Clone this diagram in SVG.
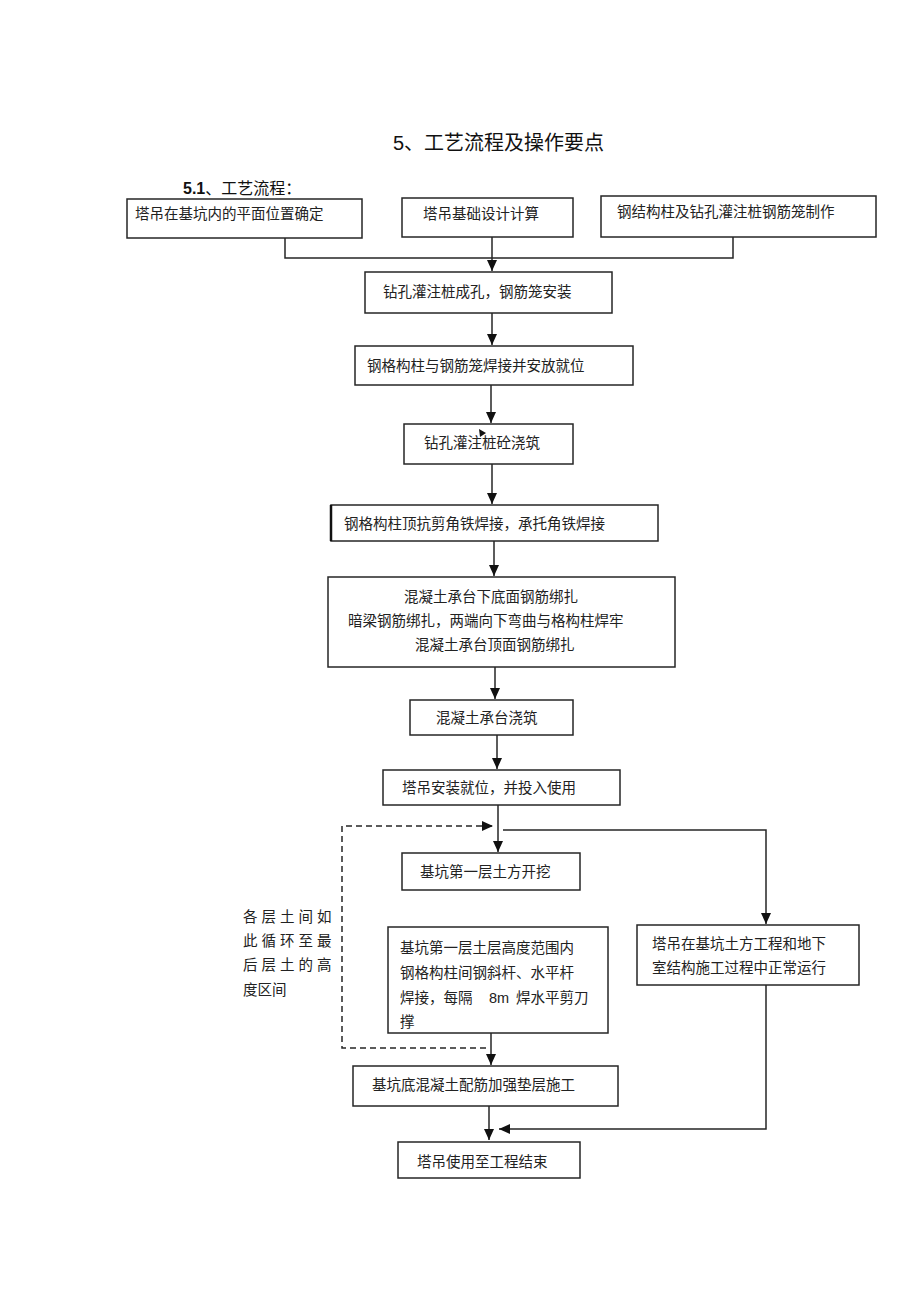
<svg xmlns="http://www.w3.org/2000/svg" width="920" height="1303" viewBox="0 0 920 1303">
<style>
.box{fill:#fff;stroke:#262626;stroke-width:1.5}
.t{font-family:"Liberation Serif","Noto Sans CJK SC",serif;font-size:14.5px;fill:#222}
.ln{fill:none;stroke:#262626;stroke-width:1.5}
.dash{fill:none;stroke:#262626;stroke-width:1.5;stroke-dasharray:6,4}
</style>
<defs>
<marker id="ah" markerUnits="userSpaceOnUse" markerWidth="12" markerHeight="12" viewBox="0 0 12 12" refX="11" refY="6" orient="auto">
<path d="M0,1 L11,6 L0,11 Z" fill="#111"/>
</marker>
</defs>
<rect width="920" height="1303" fill="#fff"/>
<text x="393" y="150" style="font-family:'Liberation Sans','Noto Sans CJK SC',sans-serif;font-size:20px;fill:#111">5、工艺流程及操作要点</text>
<text x="183" y="194" style="font-family:'Liberation Sans','Noto Sans CJK SC',sans-serif;font-size:16px;fill:#111"><tspan font-weight="bold">5.1</tspan>、工艺流程：</text>

<g id="connectors">
<path class="ln" d="M285 238 V258 H733 V237"/>
<path class="ln" d="M492 237 V271" marker-end="url(#ah)"/>
<path class="ln" d="M492 313 V345" marker-end="url(#ah)"/>
<path class="ln" d="M491 385 V423" marker-end="url(#ah)"/>
<path class="ln" d="M492 464 V504" marker-end="url(#ah)"/>
<path class="ln" d="M494 541 V576" marker-end="url(#ah)"/>
<path class="ln" d="M495 667 V699" marker-end="url(#ah)"/>
<path class="ln" d="M497 735 V769" marker-end="url(#ah)"/>
<path class="ln" d="M498 805 V852" marker-end="url(#ah)"/>
<path class="ln" d="M503 830 H766 V924" marker-end="url(#ah)"/>
<path class="dash" d="M486 1048 H342 V826 H493" marker-end="url(#ah)"/>
<path class="ln" d="M491 1033 V1065" marker-end="url(#ah)"/>
<path class="ln" d="M489 1092 V1140" marker-end="url(#ah)"/>
<path class="ln" d="M766 985 V1129 H499" marker-end="url(#ah)"/>
</g>

<g id="n1"><rect class="box" x="127" y="199" width="235" height="39"/><text class="t" x="135" y="219">塔吊在基坑内的平面位置确定</text></g>
<g id="n2"><rect class="box" x="402" y="198" width="171" height="39"/><text class="t" x="423" y="219">塔吊基础设计计算</text></g>
<g id="n3"><rect class="box" x="601" y="196" width="275" height="41"/><text class="t" x="617" y="217">钢结构柱及钻孔灌注桩钢筋笼制作</text></g>
<g id="n4"><rect class="box" x="365" y="272" width="247" height="41"/><text class="t" x="383" y="297">钻孔灌注桩成孔，钢筋笼安装</text></g>
<g id="n5"><rect class="box" x="355" y="346" width="278" height="39"/><text class="t" x="367" y="371">钢格构柱与钢筋笼焊接并安放就位</text></g>
<g id="n6"><rect class="box" x="404" y="424" width="169" height="40"/><text class="t" x="424" y="448">钻孔灌注桩砼浇筑</text><polygon points="479,429 486,433 480,437" fill="#111"/></g>
<g id="n7"><rect class="box" x="331" y="505" width="327" height="36"/><line x1="331" y1="505" x2="331" y2="541" stroke="#111" stroke-width="2.5"/><text class="t" x="344" y="529">钢格构柱顶抗剪角铁焊接，承托角铁焊接</text></g>
<g id="n8"><rect class="box" x="328" y="577" width="347" height="90"/>
<text class="t" x="404" y="602">混凝土承台下底面钢筋绑扎</text>
<text class="t" x="348" y="626">暗梁钢筋绑扎，两端向下弯曲与格构柱焊牢</text>
<text class="t" x="415" y="650">混凝土承台顶面钢筋绑扎</text></g>
<g id="n9"><rect class="box" x="410" y="700" width="163" height="35"/><text class="t" x="436" y="723">混凝土承台浇筑</text></g>
<g id="n10"><rect class="box" x="383" y="770" width="237" height="35"/><text class="t" x="402" y="793">塔吊安装就位，并投入使用</text></g>
<g id="n11"><rect class="box" x="402" y="853" width="178" height="37"/><text class="t" x="420" y="877">基坑第一层土方开挖</text></g>
<g id="n12"><rect class="box" x="388" y="927" width="220" height="106"/>
<text class="t" x="400" y="953">基坑第一层土层高度范围内</text>
<text class="t" x="400" y="978">钢格构柱间钢斜杆、水平杆</text>
<text class="t" x="400" y="1003">焊接，每隔<tspan x="489" style="font-family:'Liberation Sans',sans-serif">8m</tspan><tspan x="516">焊水平剪刀</tspan></text>
<text class="t" x="400" y="1027">撑</text></g>
<g id="n13"><rect class="box" x="637" y="925" width="222" height="60"/>
<text class="t" x="652" y="949">塔吊在基坑土方工程和地下</text>
<text class="t" x="652" y="973">室结构施工过程中正常运行</text></g>
<g id="n14"><rect class="box" x="353" y="1066" width="265" height="40"/><text class="t" x="372" y="1090">基坑底混凝土配筋加强垫层施工</text></g>
<g id="n15"><rect class="box" x="398" y="1142" width="182" height="36"/><text class="t" x="417" y="1167">塔吊使用至工程结束</text></g>
<g id="note">
<text class="t" x="243" y="922" letter-spacing="4">各层土间如</text>
<text class="t" x="243" y="946" letter-spacing="4">此循环至最</text>
<text class="t" x="243" y="970" letter-spacing="4">后层土的高</text>
<text class="t" x="243" y="995">度区间</text>
</g>
</svg>
